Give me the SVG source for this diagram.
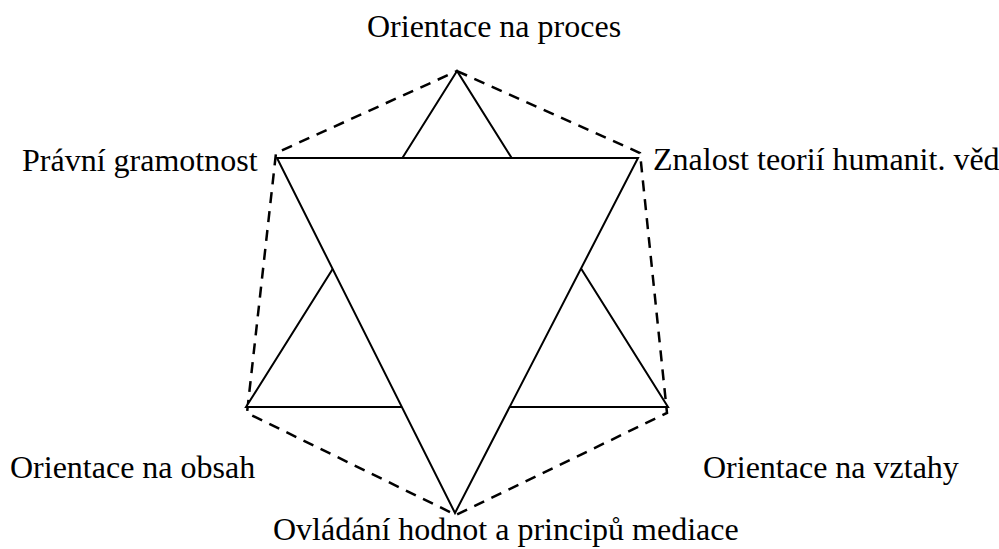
<svg xmlns="http://www.w3.org/2000/svg" width="999" height="549" viewBox="0 0 999 549">
<style>
text{font-family:'Liberation Serif','Times New Roman',serif;font-size:32px;fill:#000}
.solid{fill:#fff;stroke:#000;stroke-width:2;stroke-linejoin:miter}
.dash{fill:none;stroke:#000;stroke-width:2.5;stroke-dasharray:11,8}
</style>
<rect width="999" height="549" fill="#fff"/>
<g id="connectors">
<polygon class="dash" points="457,71 640,153 667,413 456,515 247,413 276,153"/>
</g>
<g id="star">
<polygon id="up-triangle" class="solid" points="457,71 246,407 668,407"/>
<polygon id="down-triangle" class="solid" points="277,158 638,158 455,513"/>
</g>
<g id="n-top"><text x="367" y="37">Orientace na proces</text></g>
<g id="n-lefttop"><text x="22" y="171">Právní gramotnost</text></g>
<g id="n-righttop"><text x="653" y="170">Znalost teorií humanit. věd</text></g>
<g id="n-leftbottom"><text x="10" y="478">Orientace na obsah</text></g>
<g id="n-rightbottom"><text x="703" y="478">Orientace na vztahy</text></g>
<g id="n-bottom"><text x="273" y="540">Ovládání hodnot a principů mediace</text></g>
</svg>
